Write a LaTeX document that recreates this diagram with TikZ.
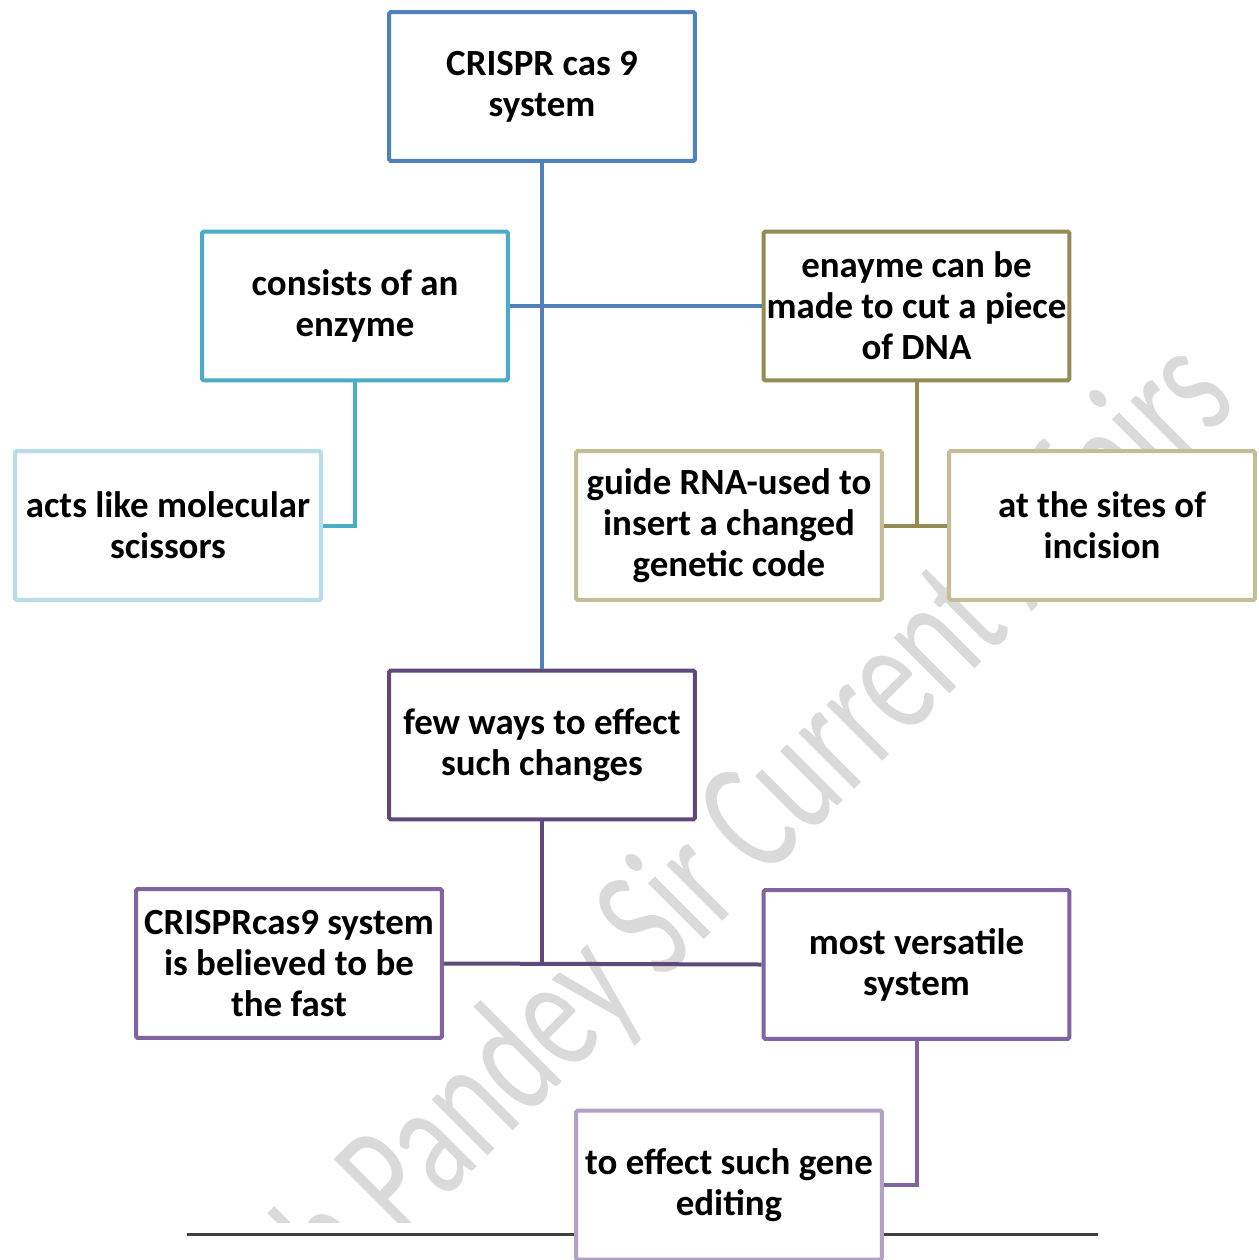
\documentclass[tikz,border=0pt]{standalone}
\usepackage{fontspec}
\setmainfont{Carlito}
\definecolor{boxBlue}{RGB}{79,129,189}
\definecolor{boxCyan}{RGB}{75,172,198}
\definecolor{boxPaleCyan}{RGB}{183,222,232}
\definecolor{boxOlive}{RGB}{148,138,84}
\definecolor{boxSand}{RGB}{196,189,151}
\definecolor{boxPlum}{RGB}{96,73,122}
\definecolor{boxPurple}{RGB}{128,100,162}
\definecolor{boxLilac}{RGB}{178,161,199}
\definecolor{markGray}{RGB}{218,218,218}

\begin{document}
\begin{tikzpicture}[x=0.02cm, y=-0.02cm,
    mapbox/.style={draw=#1, line width=0.08cm, fill=white, rounded corners=1pt,
      minimum width=6.12cm, minimum height=2.98cm, align=center, inner sep=0pt,
      font=\bfseries\fontsize{21}{23.3}\selectfont},
    link/.style={#1, line width=0.08cm}]
  \useasboundingbox (0,0) rectangle (1258,1260);
  % watermark
  \begin{scope}
    \clip (0,0) rectangle (1258,1222);
    \node[markGray, rotate=45, yscale=1.45, anchor=base west, inner sep=0pt,
      font=\fontsize{65}{70}\selectfont] (mark) at (343,1301) {h Pandey Sir Current Affairs};
  \end{scope}
  \draw[line width=0.06cm, black!75] (187,1234) -- (1098,1234);

  \node[mapbox=boxBlue] (top) at (542,86.5) {CRISPR cas 9\\system};
  \node[mapbox=boxCyan] (enzyme) at (355,306) {consists of an\\enzyme};
  \node[mapbox=boxPaleCyan] (scissors) at (168,525.5) {acts like molecular\\scissors};
  \node[mapbox=boxOlive] (cut) at (916.5,306) {enayme can be\\made to cut a piece\\of DNA};
  \node[mapbox=boxSand] (guide) at (729,525.5) {guide RNA-used to\\insert a changed\\genetic code};
  \node[mapbox=boxSand] (sites) at (1102,525.5) {at the sites of\\incision};
  \node[mapbox=boxPlum] (ways) at (542,745) {few ways to effect\\such changes};
  \node[mapbox=boxPurple] (fast) at (289,963.5) {CRISPRcas9 system\\is believed to be\\the fast};
  \node[mapbox=boxPurple] (versatile) at (916.5,964.5) {most versatile\\system};
  \node[mapbox=boxLilac] (editing) at (729,1185) {to effect such gene\\editing};

  % connectors
  \draw[link=boxBlue] (top.south) -- (ways.north);
  \draw[link=boxBlue] (enzyme.east) -- (cut.west);
  \draw[link=boxCyan] (enzyme.south) |- (scissors.east);
  \draw[link=boxOlive] (cut.south) -- (cut.south |- guide.east);
  \draw[link=boxOlive] (guide.east) -- (sites.west);
  \draw[link=boxPlum] (ways.south) -- (ways.south |- fast.east);
  \draw[link=boxPlum] (fast.east) -- (versatile.west);
  \draw[link=boxPurple] (versatile.south) |- (editing.east);
\end{tikzpicture}
\end{document}
